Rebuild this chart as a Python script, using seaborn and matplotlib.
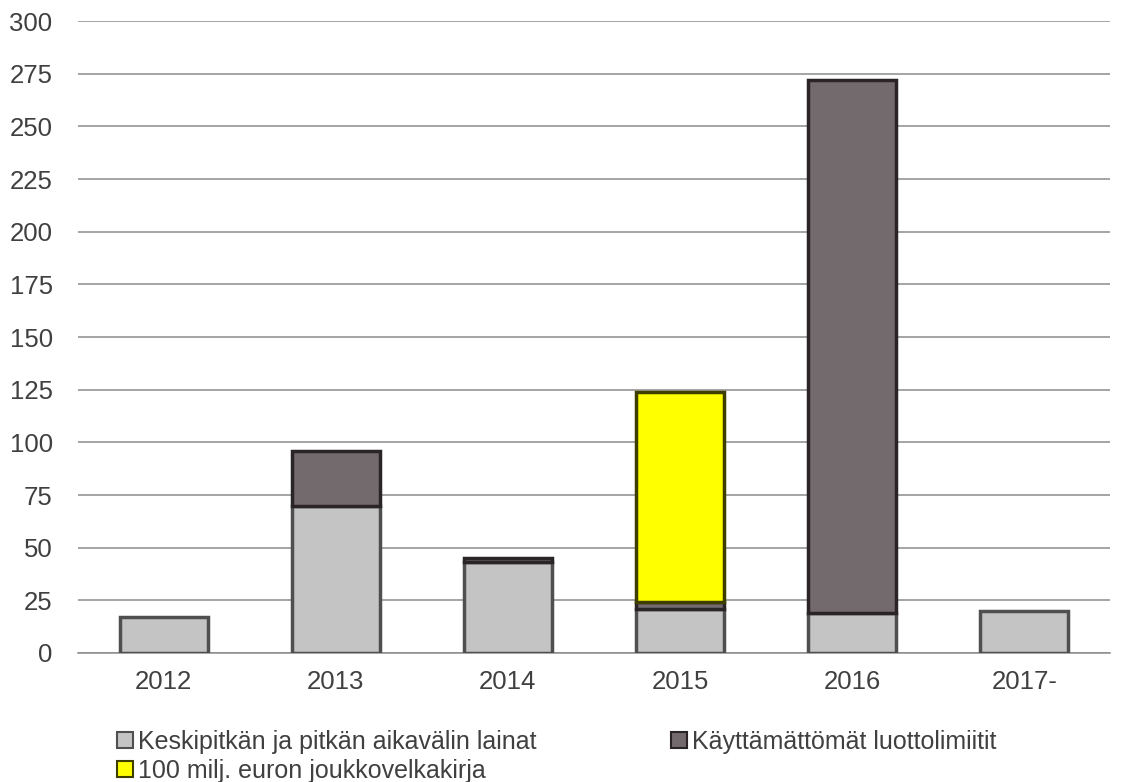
import matplotlib
matplotlib.use("Agg")
import matplotlib.pyplot as plt
import seaborn as sns
import pandas as pd
import numpy as np
from matplotlib.patches import Patch

categories = ["2012", "2013", "2014", "2015", "2016", "2017-"]
loans = [17, 70, 43, 21, 19, 20]
credit_lines = [0, 26, 2, 3, 253, 0]
bond = [0, 0, 0, 100, 0, 0]
series_names = ["Keskipitkän ja pitkän aikavälin lainat",
                "Käyttämättömät luottolimiitit",
                "100 milj. euron joukkovelkakirja"]
y_ticks = [0, 25, 50, 75, 100, 125, 150, 175, 200, 225, 250, 275, 300]

sns.set_theme(style="white")
plt.rcParams['font.family'] = ['Liberation Sans', 'DejaVu Sans']

fig = plt.figure(figsize=(11.25, 7.82), dpi=100)
ax = fig.add_axes([0.069, 0.165, 0.918, 0.808])

df = pd.DataFrame({"cat": categories, "loans": loans,
                   "credit": credit_lines, "bond": bond})
b1 = np.array(loans)
b2 = b1 + np.array(credit_lines)

fills = ["#C4C4C4", "#736A6E", "#FFFF00"]
edges = ["#4F4F4F", "#2A2426", "#3E3E00"]

sns.barplot(data=df, x="cat", y="loans", color=fills[0], edgecolor=edges[0],
            linewidth=2.5, width=0.51, saturation=1, ax=ax, zorder=3)
sns.barplot(data=df, x="cat", y="credit", bottom=b1, color=fills[1],
            edgecolor=edges[1], linewidth=2.5, width=0.51, saturation=1, ax=ax, zorder=3)
sns.barplot(data=df, x="cat", y="bond", bottom=b2, color=fills[2],
            edgecolor=edges[2], linewidth=2.5, width=0.51, saturation=1, ax=ax, zorder=3)

for p in ax.patches:
    if p.get_height() == 0:
        p.set_visible(False)

ax.set_ylim(0, 300)
ax.set_xlim(-0.5, 5.5)
ax.set_yticks(y_ticks)
ax.set_yticklabels([str(t) for t in y_ticks])
ax.yaxis.grid(True, color="#8C8C8C", linewidth=1.1, zorder=0)
ax.set_axisbelow(True)
for s in ["top", "right", "left"]:
    ax.spines[s].set_visible(False)
ax.spines["bottom"].set_color("#8C8C8C")
ax.spines["bottom"].set_linewidth(1.1)
ax.set_xlabel("")
ax.set_ylabel("")
ax.tick_params(axis="y", length=0, pad=18, labelsize=18.5, labelcolor="#404040")
ax.set_xticks(np.arange(len(categories)))
ax.set_xticklabels(categories)
ax.tick_params(axis="x", length=0, pad=12, labelsize=18.5, labelcolor="#404040")
ax.set_xticks(np.arange(-0.5, 6.0, 1.0), minor=True)
ax.tick_params(axis="x", which="minor", length=5, width=1.1, color="#8C8C8C", direction="out")

handles = [Patch(facecolor=fills[i], edgecolor=edges[i], linewidth=1.5, label=series_names[i])
           for i in range(3)]
# order so that row 1 holds series 0 and 1, row 2 holds series 2
ordered = [handles[0], handles[2], handles[1]]
leg = fig.legend(handles=ordered, loc="upper left", bbox_to_anchor=(0.104, 0.067),
                 ncol=2, frameon=False, handlelength=0.62, handleheight=0.62,
                 handletextpad=0.2, columnspacing=5.4, labelspacing=0.22,
                 borderaxespad=0, borderpad=0,
                 prop={"family": ["Liberation Sans"], "size": 18})
for t in leg.get_texts():
    t.set_color("#404040")

fig.savefig("out.png", dpi=100)
